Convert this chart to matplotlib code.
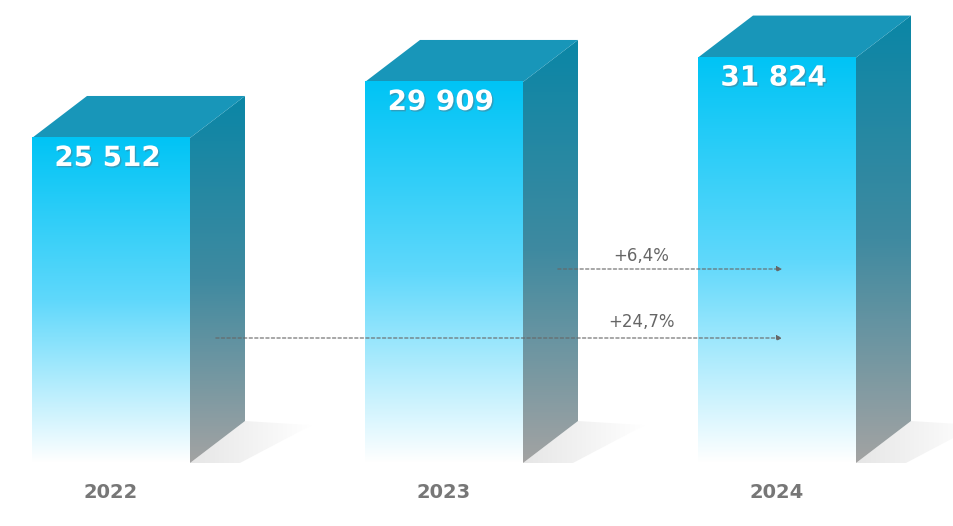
import numpy as np
import matplotlib.pyplot as plt
import matplotlib.patheffects as pe
from matplotlib.patches import Polygon
from matplotlib.colors import LinearSegmentedColormap

years = ['2022', '2023', '2024']
values = [25512, 29909, 31824]
value_labels = ['25 512', '29 909', '31 824']
growth_labels = ['+24,7%', '+6,4%']

W, H = 954, 526
px_per_unit = 0.01274
base_px = 463
cx0, step = 111, 333


def px_x(px):
    return (px - cx0) / step


def px_y(py):
    return (base_px - py) / px_per_unit


fig = plt.figure(figsize=(W / 100, H / 100), dpi=100)
ax = fig.add_axes([0, 0, 1, 1])
ax.set_xlim(px_x(0), px_x(W))
ax.set_ylim(px_y(H), px_y(0))
ax.axis('off')

front_cmap = LinearSegmentedColormap.from_list('front', ['#00c4f5', '#5fd8fb', '#ffffff'])
side_cmap = LinearSegmentedColormap.from_list('side', ['#0a86a6', '#3f8aa0', '#a3a3a3'])
shadow_cmap = LinearSegmentedColormap.from_list('shadow', ['#e6e6e6', '#ffffff'])

width = 158 / step
dx = 55 / step
dy = 42 / px_per_unit
grad = np.linspace(0, 1, 256).reshape(-1, 1)

for i, v in enumerate(values):
    x0 = i - width / 2
    x1 = i + width / 2
    # floor shadow
    sh = Polygon([(x1, 0), (x1 + dx, dy), (x1 + dx + 0.2, dy * 0.9), (x1 + 0.15, 0)],
                 closed=True, facecolor='none', edgecolor='none')
    ax.add_patch(sh)
    im = ax.imshow(np.linspace(0, 1, 256).reshape(1, -1), cmap=shadow_cmap, aspect='auto',
                   extent=(x1, x1 + dx + 0.2, 0, dy), origin='lower', zorder=1)
    im.set_clip_path(sh)
    # side face
    side = Polygon([(x1, 0), (x1, v), (x1 + dx, v + dy), (x1 + dx, dy)],
                   closed=True, facecolor='none', edgecolor='none')
    ax.add_patch(side)
    im = ax.imshow(grad, cmap=side_cmap, aspect='auto',
                   extent=(x1, x1 + dx, 0, v + dy), origin='upper', zorder=2)
    im.set_clip_path(side)
    # top face
    ax.add_patch(Polygon([(x0, v), (x1, v), (x1 + dx, v + dy), (x0 + dx, v + dy)],
                         closed=True, facecolor='#1896b9', edgecolor='none', zorder=3))
    # front face
    ax.imshow(grad, cmap=front_cmap, aspect='auto', extent=(x0, x1, 0, v),
              origin='upper', zorder=3)
    ax.text(i - 0.01, v - 20 / px_per_unit, value_labels[i], color='white', fontsize=20,
            fontweight='bold', ha='center', va='center', zorder=5,
            path_effects=[pe.withSimplePatchShadow(offset=(1, -1), shadow_rgbFace='#557788',
                                                   alpha=0.5)])
    ax.text(i, px_y(493), years[i], color='#777777', fontsize=14, fontweight='bold',
            ha='center', va='center')

arrows = [(213, 338, 642, 322), (555, 269, 641, 256)]
for (xs, ys, xt, yt), lab in zip(arrows, growth_labels):
    ax.annotate('', xy=(px_x(785), px_y(ys)), xytext=(px_x(xs), px_y(ys)),
                arrowprops=dict(arrowstyle='-|>', color='#666666', lw=0.8,
                                linestyle=(0, (3, 2)), mutation_scale=8), zorder=6)
    ax.text(px_x(xt), px_y(yt), lab, color='#666666', fontsize=12, ha='center',
            va='center', zorder=6)

fig.savefig('out.png', dpi=100)
